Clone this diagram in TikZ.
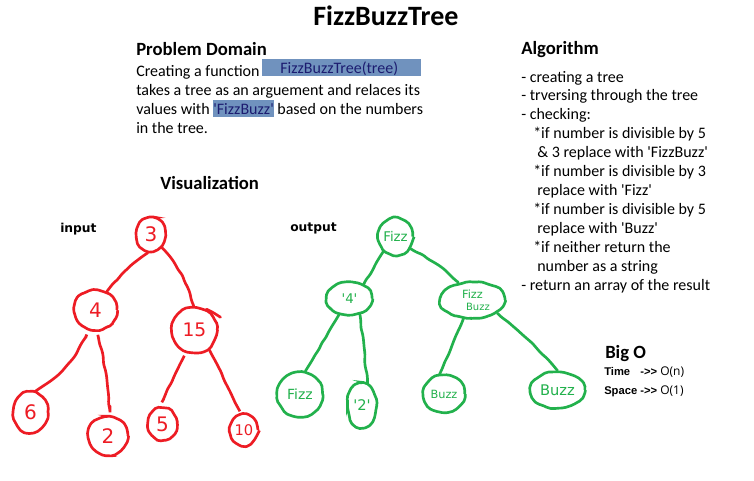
\documentclass[tikz,border=0pt]{standalone}
\usepackage{fontspec}
\setmainfont{Carlito}[Ligatures=TeXOff]
\newfontfamily\vfont{DejaVu Sans}[Ligatures=TeXOff]
\newfontfamily\afont{Liberation Sans}[Ligatures=TeXOff]
\newfontfamily\ofont{Open Sans}[Ligatures=TeXOff]
\usetikzlibrary{shapes.geometric,decorations.pathmorphing}
\definecolor{pred}{HTML}{ED1C24}
\definecolor{pgreen}{HTML}{22B14C}
\definecolor{hlblue}{HTML}{7092BE}
\definecolor{hltext}{HTML}{1C1C70}
\newcommand{\hlword}[1]{{\setlength{\fboxsep}{0pt}\colorbox{hlblue}{\rule[-2.4pt]{0pt}{12.8pt}\textcolor{hltext}{#1}}}}
\tikzset{
  txt/.style={anchor=base west, inner sep=0pt, font=\fontsize{12}{14}\selectfont},
  head/.style={anchor=base west, inner sep=0pt, font=\fontsize{14}{16}\selectfont\bfseries},
  lab/.style={anchor=base west, inner sep=0pt, font=\vfont\fontsize{9.2}{11}\selectfont\bfseries},
  olab/.style={anchor=base west, inner sep=0pt, font=\afont\fontsize{8.4}{10}\selectfont\bfseries},
  oval/.style={anchor=base west, inner sep=0pt, font=\ofont\fontsize{9}{10}\selectfont},
  hand/.style={ellipse, inner sep=0pt, line width=2pt, decorate,
    decoration={random steps, segment length=4pt, amplitude=0.7pt}, rounded corners=1.5pt},
  rnode/.style={hand, draw=pred, text=pred, font=\vfont\fontsize{15}{15}\selectfont},
  gnode/.style={hand, draw=pgreen, text=pgreen, font=\vfont\fontsize{10}{10}\selectfont},
  wire/.style={line width=2pt, line cap=round, decorate,
    decoration={random steps, segment length=5pt, amplitude=0.5pt}, rounded corners=2pt},
  rline/.style={wire, draw=pred},
  gline/.style={wire, draw=pgreen}
}
\begin{document}
\begin{tikzpicture}[x=0.75pt, y=-0.75pt]
\pgfmathsetseed{7}
\useasboundingbox (0,0) rectangle (754,480);
\fill[white] (0,0) rectangle (754,480);

% title
\node[anchor=base west, inner sep=0pt, font=\fontsize{21}{24}\selectfont\bfseries] (title) at (313,25) {FizzBuzzTree};

% problem domain
\node[head] (pd) at (136,55) {Problem Domain};
\node[txt] (p1) at (136,76) {Creating a function};
\node[anchor=north west, inner sep=0pt, fill=hlblue, minimum width=119.25pt, minimum height=12.75pt] (fn) at (262,59) {};
\node[txt, text=hltext] (fntxt) at (280,73.5) {FizzBuzzTree(tree)};
\node[txt] (p2) at (136,95) {takes a tree as an arguement and relaces its};
\node[txt] (p3) at (136,114) {values with \hlword{'FizzBuzz'} based on the numbers};
\node[txt] (p4) at (136,133) {in the tree.};

% algorithm
\node[head] (alg) at (521,54) {Algorithm};
\node[txt] (a1) at (521,82) {- creating a tree};
\node[txt] (a2) at (521,100.9) {- trversing through the tree};
\node[txt] (a3) at (521,119.8) {- checking:};
\node[txt] (a4) at (533,138.7) {*if number is divisible by 5};
\node[txt] (a5) at (537,157.6) {\& 3 replace with 'FizzBuzz'};
\node[txt] (a6) at (533,176.5) {*if number is divisible by 3};
\node[txt] (a7) at (537,195.4) {replace with 'Fizz'};
\node[txt] (a8) at (533,214.3) {*if number is divisible by 5};
\node[txt] (a9) at (537,233.2) {replace with 'Buzz'};
\node[txt] (a10) at (533,252.1) {*if neither return the};
\node[txt] (a11) at (537,271) {number as a string};
\node[txt] (a12) at (521,290) {- return an array of the result};

% big O
\node[head] (bigo) at (605,358) {Big O};
\node[olab] (tlab) at (604,375) {\makebox[39.75pt][l]{Time\hfill->>}};
\node[oval] (tval) at (660,375) {O(n)};
\node[olab] (slab) at (604,394) {\makebox[39.75pt][l]{Space\hfill->>}};
\node[oval] (sval) at (660,394) {O(1)};

% visualization
\node[head] (vis) at (160,189) {Visualization};
\node[lab] (inlab) at (60,232) {input};
\node[lab] (outlab) at (290,231) {output};

% input tree
\node[rnode, minimum width=22pt, minimum height=26pt] (r3) at (151,234.5) {3};
\node[rnode, minimum width=32pt, minimum height=30pt] (r4) at (95.5,310) {4};
\node[rnode, minimum width=34pt, minimum height=34pt, font=\vfont\fontsize{14}{14}\selectfont] (r15) at (194.5,330) {15};
\node[rnode, minimum width=26pt, minimum height=31pt] (r6) at (30.5,412.5) {6};
\node[rnode, minimum width=30pt, minimum height=29pt] (r2) at (108,436) {2};
\node[rnode, minimum width=22pt, minimum height=24pt] (r5) at (162.5,424) {5};
\node[rnode, minimum width=21pt, minimum height=23pt, font=\vfont\fontsize{11}{11}\selectfont] (r10) at (244,430) {10};

\draw[rline] (r15.60) -- ++(14,8);
\draw[rline] (r3.-100) to[bend right=8] (r4.58);
\draw[rline] (r3.-50) to[bend left=12] (r15.92);
\draw[rline, shorten <=6pt] (r4.-110) to[bend left=18] (r6.78);
\draw[rline, shorten <=6pt, shorten >=7pt] (r4.-86) to[bend left=5] (r2.85);
\draw[rline, shorten <=6pt, shorten >=7pt] (r15.-111) -- (r5.100);
\draw[rline, shorten >=3pt] (r15.-53) -- (r10.100);

% output tree
\node[gnode, minimum width=26pt, minimum height=28pt] (g0) at (395.5,236.5) {Fizz};
\node[gnode, minimum width=34pt, minimum height=25pt] (g4) at (349.5,298.5) {'4'};
\node[gnode, minimum width=49pt, minimum height=27pt, align=center, font=\vfont\fontsize{8.5}{9}\selectfont] (gfb) at (472.5,300) {Fizz\\ \ \ \ {\fontsize{7.5}{8}\selectfont Buzz}};
\node[gnode, minimum width=34pt, minimum height=34pt, font=\vfont\fontsize{10.5}{10.5}\selectfont] (gl1) at (300,394.5) {Fizz};
\node[gnode, minimum width=22pt, minimum height=34pt, font=\vfont\fontsize{11}{11}\selectfont] (gl2) at (362,405.5) {'2'};
\node[gnode, minimum width=31pt, minimum height=28pt, font=\vfont\fontsize{8.5}{8.5}\selectfont] (gl3) at (444,394) {Buzz};
\node[gnode, minimum width=41pt, minimum height=27pt, font=\vfont\fontsize{11}{11}\selectfont] (gl4) at (557.5,390) {Buzz};

\draw[gline] (g0.-129) -- (g4.45);
\draw[gline] (g0.-39) to[bend left=8] (gfb.129);
\draw[gline] (g4.-123) -- (gl1.77);
\draw[gline] (g4.-57) -- (gl2.76);
\draw[gline] (gfb.-116) -- (gl3.103);
\draw[gline] (gfb.-28) to[bend left=5] (gl4.90);
\end{tikzpicture}
\end{document}
